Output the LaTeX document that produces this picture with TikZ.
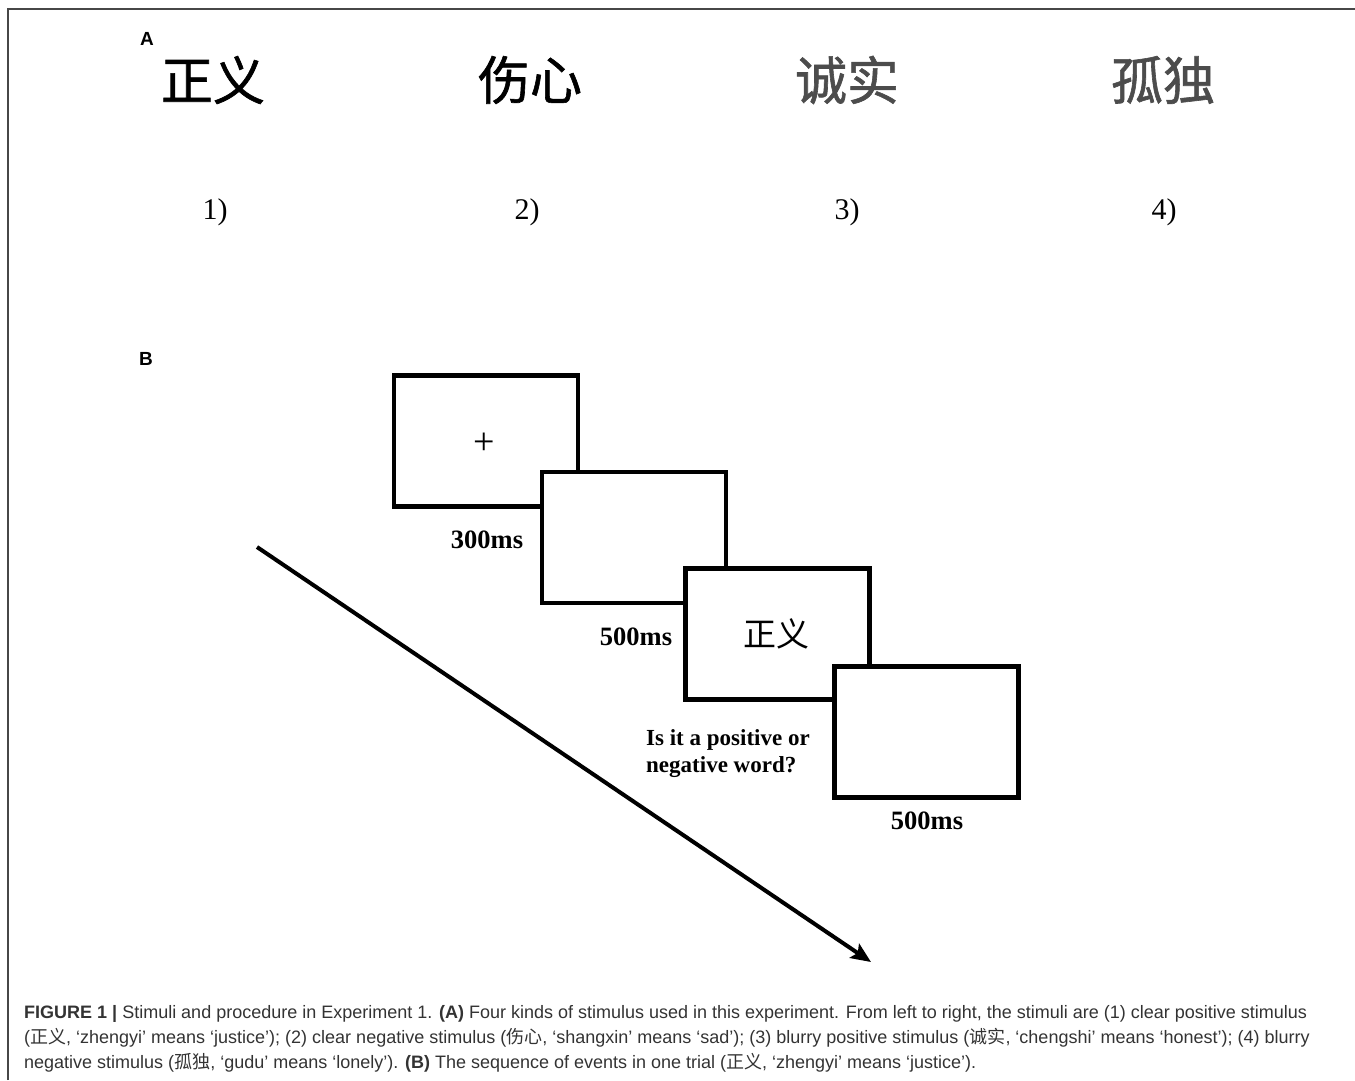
\documentclass[tikz,border=0pt]{standalone}
\usepackage{fontspec}
\setmainfont{Liberation Serif}
\setsansfont{Liberation Sans}
\newfontfamily\cjk{Noto Sans CJK SC}
\newfontfamily\cjkheavy[FakeBold=1.2]{Noto Sans CJK SC}
\usetikzlibrary{arrows.meta}
\begin{document}
\begin{tikzpicture}[x=1pt,y=-1pt,
  screen/.style={draw=black, line width=4.5pt, fill=white, rectangle,
    minimum width=184pt, minimum height=131pt, inner sep=0pt},
  panel/.style={font=\sffamily\bfseries\fontsize{19}{22}\selectfont, inner sep=0pt},
  bigword/.style={font=\cjkheavy\fontsize{52}{56}\selectfont, inner sep=0pt},
  numlab/.style={font=\rmfamily\fontsize{30}{34}\selectfont, inner sep=0pt},
  timelab/.style={font=\rmfamily\bfseries\fontsize{26.5}{30}\selectfont, inner sep=0pt},
  capline/.style={anchor=base west, inner sep=0pt, text=black!80,
    font=\sffamily\fontsize{18}{22}\selectfont}]
\useasboundingbox (0,0) rectangle (1355,1080);
% frame
\coordinate (f1) at (8,1080);
\coordinate (f2) at (8,9);
\coordinate (f3) at (1355,9);
\draw[line width=2pt, black!72] (f1) -- (f2) -- (f3);

% panel A
\node[panel] (pA) at (147,39) {A};
\node[bigword] (w1) at (213,80) {正义};
\node[bigword] (w2) at (530,80) {伤心};
\node[bigword, text=black!70] (w3) at (847,80) {诚实};
\node[bigword, text=black!70] (w4) at (1163,80) {孤独};
\node[numlab] (n1) at (215,212) {1)};
\node[numlab] (n2) at (527,212) {2)};
\node[numlab] (n3) at (847,212) {3)};
\node[numlab] (n4) at (1164,212) {4)};

% panel B
\node[panel] (pB) at (146,359) {B};
\node[screen] (s1) at (486,441) {};
\node[font=\rmfamily\fontsize{38}{40}\selectfont, inner sep=0pt] (plus) at (484,444) {+};
\node[screen] (s2) at (634,537.5) {};
\node[screen] (s3) at (777.5,634) {};
\node[font=\cjk\fontsize{33}{36}\selectfont, inner sep=0pt] (w5) at (776,634) {正义};
\node[screen] (s4) at (926.5,732) {};

\node[timelab] (t1) at (487,540) {300ms};
\node[timelab] (t2) at (636,637) {500ms};
\node[timelab] (t3) at (927,821) {500ms};
\node[font=\rmfamily\bfseries\fontsize{23}{27}\selectfont, align=left, anchor=north west, inner sep=0pt] (q) at (646,729) {Is it a positive or\\negative word?};

% time arrow
\coordinate (as) at (257,547);
\coordinate (ae) at (871,962);
\draw[line width=4pt, -{Stealth[length=20pt,width=17pt,inset=4pt]}] (as) -- (ae);

% caption
\node[capline] (c1) at (24,1018) {\textbf{FIGURE 1 |} Stimuli and procedure in Experiment 1. \textbf{(A)} Four kinds of stimulus used in this experiment. From left to right, the stimuli are (1) clear positive stimulus};
\node[capline] (c2) at (24,1043) {({\cjk 正义}, ‘zhengyi’ means ‘justice’); (2) clear negative stimulus ({\cjk 伤心}, ‘shangxin’ means ‘sad’); (3) blurry positive stimulus ({\cjk 诚实}, ‘chengshi’ means ‘honest’); (4) blurry};
\node[capline] (c3) at (24,1068) {negative stimulus ({\cjk 孤独}, ‘gudu’ means ‘lonely’). \textbf{(B)} The sequence of events in one trial ({\cjk 正义}, ‘zhengyi’ means ‘justice’).};
\end{tikzpicture}
\end{document}
